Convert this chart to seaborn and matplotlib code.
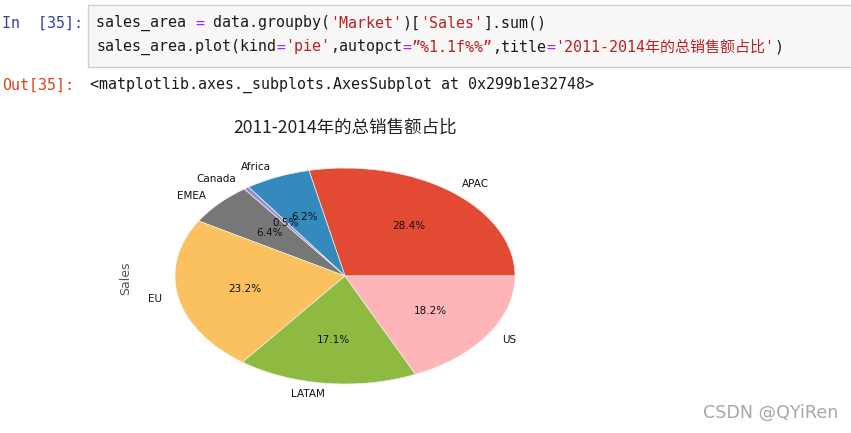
import numpy as np
import pandas as pd
import seaborn as sns
import matplotlib.pyplot as plt

# Style and fonts
sns.set_theme(style='white')
plt.rcParams['font.family'] = ['DejaVu Sans', 'Noto Sans CJK SC']
plt.rcParams['axes.unicode_minus'] = False

# Data
markets = ['APAC', 'Africa', 'Canada', 'EMEA', 'EU', 'LATAM', 'US']
share = [28.4, 6.2, 0.5, 6.4, 23.2, 17.1, 18.2]
colors = ['#E24A33', '#348ABD', '#988ED5', '#777777', '#FBC15E', '#8EBA42', '#FFB5B8']
title = '2011-2014年的总销售额占比'

sales_area = pd.Series(share, index=markets, name='Sales')

# Notebook text
code_line1 = [('sales_area ', 'k'), ('=', '#AA22FF'), (' data.groupby(', 'k'),
              ("'Market'", '#BA2121'), (')[', 'k'), ("'Sales'", '#BA2121'), (('].sum()'), 'k')]
code_line2 = [('sales_area.plot(kind', 'k'), ('=', '#AA22FF'), ("'pie'", '#BA2121'),
              (',autopct', 'k'), ('=', '#AA22FF'), ('”%1.1f%%”', '#BA2121'),
              (',title', 'k'), ('=', '#AA22FF'), ("'" + title + "'", '#BA2121'), (')', 'k')]
out_text = '<matplotlib.axes._subplots.AxesSubplot at 0x299b1e32748>'

W, H = 851, 433
fig = plt.figure(figsize=(W / 100, H / 100), dpi=100)
renderer = fig.canvas.get_renderer()
code_font = ['DejaVu Sans Mono', 'Noto Sans CJK SC']
code_size = 10.8


def fx(px):
    return px / W


def fy(py):
    return 1 - py / H


def write_line(x, y, parts, size=code_size):
    # draw coloured pieces one after the other
    for txt, col in parts:
        fig.text(fx(x), fy(y), txt, color=col, fontsize=size, family=code_font, va='center')
        probe = fig.text(0, 0, txt.replace(' ', 'x'), fontsize=size, family=code_font)
        x += probe.get_window_extent(renderer).width
        probe.remove()


# code cell box
box = plt.Rectangle((fx(88), fy(67)), 1, 62 / H, transform=fig.transFigure,
                    facecolor='#F7F7F7', edgecolor='#CFCFCF', lw=1)
fig.add_artist(box)

fig.text(fx(2), fy(23), 'In  [35]:', color='#303F9F', fontsize=code_size, family=code_font, va='center')
write_line(96, 23, code_line1)
write_line(96, 47, code_line2)
fig.text(fx(2), fy(85), 'Out[35]:', color='#D84315', fontsize=code_size, family=code_font, va='center')
fig.text(fx(90), fy(85), out_text, color='k', fontsize=code_size, family=code_font, va='center')

# Pie chart
ax = fig.add_axes([fx(132.5), 22 / H, 425 / W, 270 / H])
ax.pie(sales_area, labels=sales_area.index, autopct='%1.1f%%', colors=colors,
       wedgeprops=dict(edgecolor='#EEEEEE', linewidth=0.5),
       textprops=dict(fontsize=7.5, color='#111111'))
ax.set_aspect('auto')
ax.set_xlim(-1.25, 1.25)
ax.set_ylim(-1.25, 1.25)
ax.set_title(title, fontsize=12.6, family=['Noto Sans CJK SC'], color='#222222', pad=6)
ax.set_ylabel('Sales', color='#555555', fontsize=9)
ax.yaxis.set_label_coords(-0.002, 0.49)

# watermark
fig.text(fx(703), fy(413), 'CSDN @QYiRen', color='#A8A8A8', fontsize=12.6, va='center')

fig.savefig('out.png', dpi=100)
